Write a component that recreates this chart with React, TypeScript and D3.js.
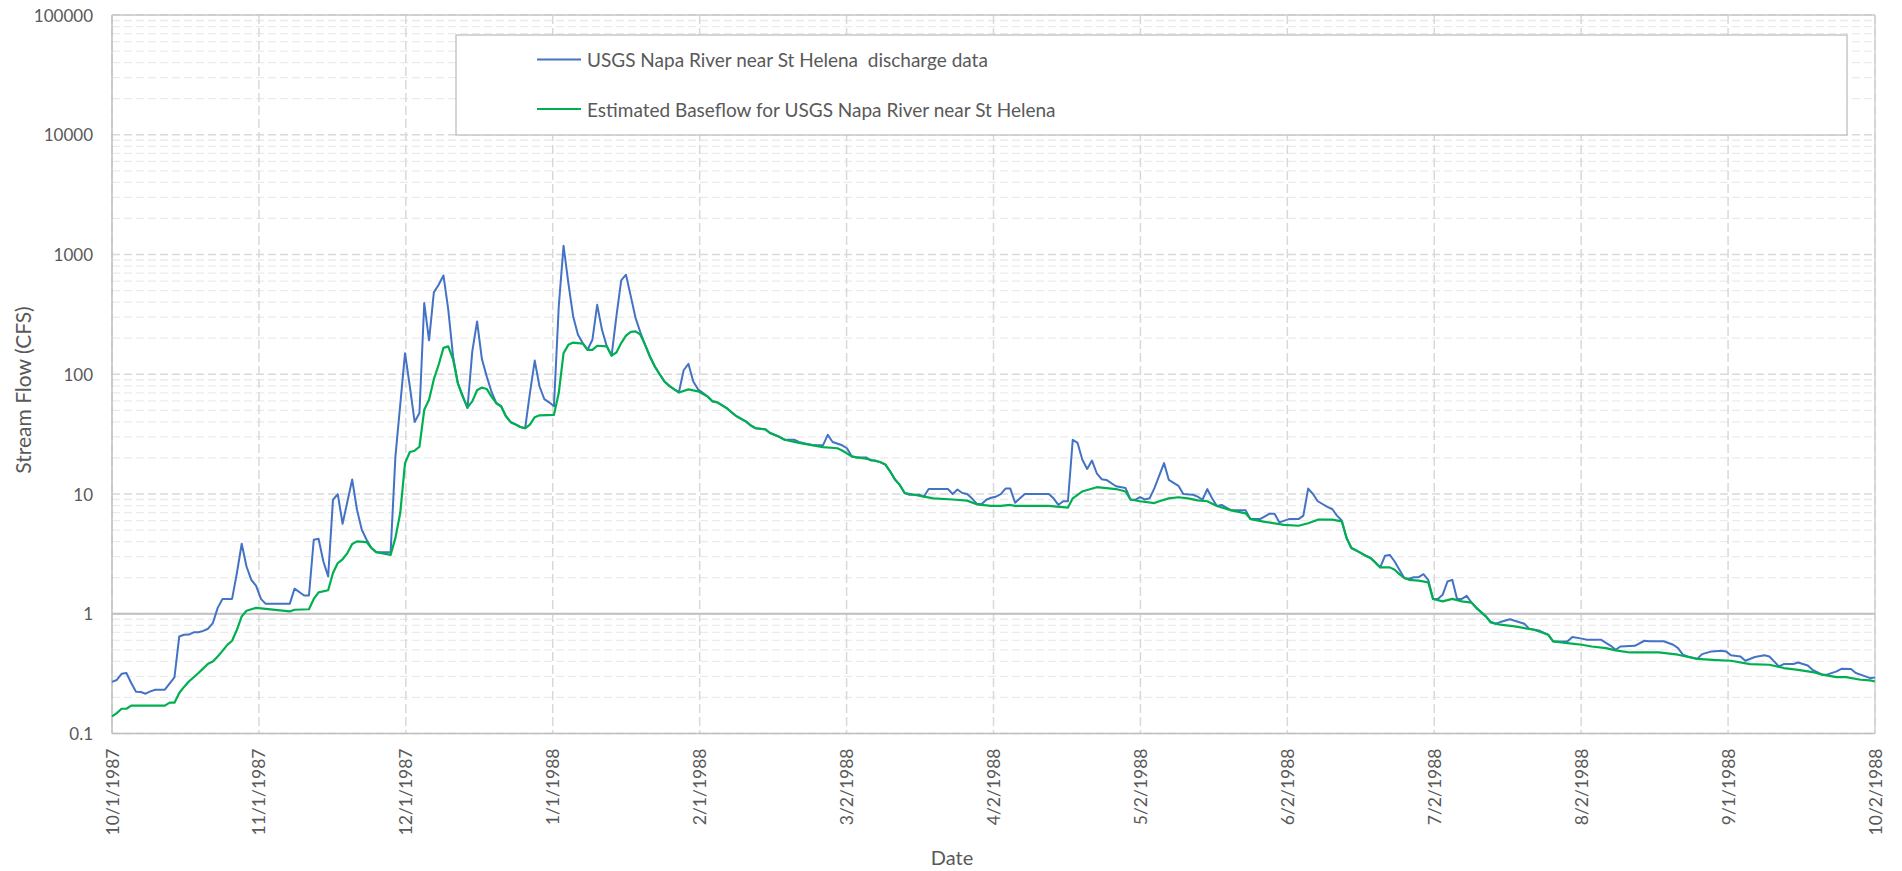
import React, { useEffect } from "react";
import * as d3 from "d3";

// ---------- DATA ----------
const startDate = new Date(1987, 9, 1);
const endDate = new Date(1988, 9, 2);

const xTickLabels = [
  "10/1/1987", "11/1/1987", "12/1/1987", "1/1/1988", "2/1/1988", "3/2/1988",
  "4/2/1988", "5/2/1988", "6/2/1988", "7/2/1988", "8/2/1988", "9/1/1988", "10/2/1988",
];
const yTickValues = [0.1, 1, 10, 100, 1000, 10000, 100000];

const seriesNames = [
  "USGS Napa River near St Helena  discharge data",
  "Estimated Baseflow for USGS Napa River near St Helena",
];

// days since 10/1/1987
const flowDays = [
  0, 1, 2, 3, 4, 5, 6, 7, 8, 9, 11, 13, 14, 15, 16, 17, 18, 19, 20, 21, 22, 23, 25, 26, 27, 28, 29, 30, 31, 32,
  37, 38, 40, 41, 42, 43, 44, 45, 46, 47, 48, 50, 51, 52, 53, 54, 55, 58, 59, 61, 62, 63, 64, 65, 66, 67, 68, 69,
  70, 71, 72, 74, 75, 76, 77, 78, 79, 80, 81, 82, 83, 84, 85, 86, 87, 88, 89, 90, 91, 92, 93, 94, 95, 96, 97, 98,
  99, 100, 101, 102, 103, 104, 105, 106, 107, 108, 109, 110, 111, 112, 113, 114, 115, 116, 117, 118, 119, 120,
  121, 122, 124, 125, 126, 128, 129, 130, 132, 133, 134, 136, 137, 139, 140, 142, 143, 144, 146, 148, 149, 150,
  152, 153, 154, 155, 157, 158, 159, 160, 161, 162, 163, 164, 165, 166, 168, 169, 170, 174, 175, 176, 177, 178,
  179, 180, 181, 182, 183, 184, 185, 186, 187, 188, 190, 195, 196, 197, 198, 199, 200, 201, 202, 203, 204, 205,
  206, 207, 209, 211, 212, 213, 214, 215, 216, 217, 219, 220, 222, 223, 225, 226, 227, 228, 229, 230, 231, 233,
  236, 237, 239, 241, 242, 243, 245, 247, 248, 249, 250, 251, 253, 254, 255, 256, 257, 258, 259, 261, 262, 263,
  264, 265, 266, 267, 268, 269, 270, 271, 272, 273, 274, 275, 276, 277, 278, 279, 280, 281, 282, 283, 284, 286,
  287, 288, 289, 291, 293, 294, 295, 297, 299, 300, 302, 303, 304, 306, 307, 310, 312, 313, 314, 317, 319, 320,
  323, 325, 326, 327, 328, 330, 331, 333, 335, 336, 337, 339, 340, 342, 344, 345, 346, 347, 348, 350, 351, 353,
  354, 356, 357, 359, 360, 362, 363, 365, 366, 367,
];
const flowValues = [
  0.27, 0.28, 0.315, 0.32, 0.264, 0.223, 0.222, 0.215, 0.225, 0.232, 0.232, 0.294, 0.646, 0.667, 0.67, 0.7, 0.7,
  0.72, 0.75, 0.836, 1.12, 1.33, 1.33, 2.19, 3.84, 2.48, 1.92, 1.71, 1.33, 1.21,
  1.21, 1.62, 1.42, 1.42, 4.15, 4.23, 2.73, 2.05, 8.95, 9.97, 5.64, 13.2, 7.39, 5.03, 4.15, 3.54, 3.27, 3.27,
  20.6, 150, 79, 40, 47.4, 393, 192, 483, 559, 668,
  346, 141, 84, 52.2, 155, 276, 134, 96, 71.5, 57.3, 54, 44.6, 39.8, 38.1, 36.3, 35.4, 69.6, 130, 79, 62, 58.3,
  54, 368, 1183, 578, 304, 214, 182,
  160, 194, 380, 235, 171, 143, 304, 608, 678, 447, 294, 223, 175, 140, 116, 100, 87, 80, 75, 70.5, 108, 122,
  87, 75, 65, 59.4, 58.3, 52, 48, 44.6, 40.2, 37.3, 35.4, 34.7, 32.3, 29.9, 28.4, 28.4, 27.2, 26.5, 25.5, 25.5,
  31.2, 27.2,
  25.5, 24.1, 20.6, 20.2, 20.2, 19.0, 19.0, 18.4, 17.6, 15.4, 13.2, 11.9, 10.2, 9.85, 9.85, 9.5, 11.0, 11.0,
  10.0, 10.9, 10.2, 10.0,
  9.2, 8.3, 8.2, 8.95, 9.3, 9.5, 9.97, 11.1, 11.1, 8.45, 10, 10, 9.2, 8.1, 8.7, 8.7, 28.4, 26.7, 19.3, 16.2, 19.0,
  14.9,
  13.3, 13.1, 11.6, 11.2, 9.0, 8.95, 9.4, 9.0, 9.2, 11.2, 18.1, 13.1, 11.7, 10, 9.85, 9.5, 8.95, 11.0, 9.2, 7.95,
  8.1, 7.3,
  7.3, 6.17, 6.17, 6.85, 6.85, 5.8, 6.17, 6.17, 6.6, 11.1, 10.0, 8.7, 7.8, 7.5, 6.6, 6.0, 4.29, 3.54, 3.38, 3.05,
  2.92, 2.68,
  2.44, 3.05, 3.1, 2.73, 2.33, 1.99, 1.96, 2.02, 2.02, 2.14, 1.92, 1.33, 1.33, 1.44, 1.86, 1.92, 1.33, 1.33, 1.41,
  1.24, 1.12, 0.95,
  0.86, 0.825, 0.852, 0.9, 0.85, 0.825, 0.75, 0.726, 0.667, 0.587, 0.587, 0.59, 0.64, 0.62, 0.606, 0.606, 0.54,
  0.5, 0.533, 0.54, 0.595, 0.59,
  0.59, 0.551, 0.517, 0.455, 0.44, 0.42, 0.46, 0.485, 0.49, 0.485, 0.45, 0.44, 0.405, 0.435, 0.45, 0.44, 0.4,
  0.363, 0.38, 0.38, 0.392, 0.37,
  0.34, 0.31, 0.31, 0.33, 0.347, 0.345, 0.32, 0.3, 0.29, 0.293,
];

const baseDays = [
  0, 1, 2, 3, 4, 11, 12, 13, 14, 15, 16, 17, 18, 19, 20, 21, 22, 23, 24, 25, 26, 27, 28, 30, 32, 37, 38, 41, 42,
  43, 45, 46, 47, 48, 49, 50, 51, 53, 54, 55, 58, 59, 60, 61, 62, 63, 64, 65, 66, 67, 68, 69, 70, 71, 72, 73, 74,
  75, 76, 77, 78, 79, 80, 81, 82, 83, 84, 85, 86, 87, 88, 89, 92, 93, 94, 95, 96, 98, 99, 100, 101, 103, 104, 105,
  106, 107, 108, 109, 110, 111, 112, 113, 115, 116, 118, 120, 122, 124, 125, 126, 128, 129, 130, 132, 133, 134,
  136, 137, 139, 140, 143, 146, 148, 151, 152, 154, 155, 157, 160, 161, 162, 163, 164, 165, 167, 169, 171, 175,
  178, 180, 183, 185, 187, 188, 195, 199, 200, 202, 203, 205, 207, 209, 211, 212, 214, 217, 218, 220, 222, 224,
  226, 228, 230, 233, 236, 237, 240, 244, 247, 249, 251, 254, 256, 257, 258, 259, 261, 262, 264, 266, 267, 268,
  269, 270, 272, 274, 275, 277, 279, 281, 283, 284, 286, 287, 289, 292, 296, 299, 300, 303, 306, 308, 311, 313,
  316, 322, 326, 330, 334, 337, 341, 345, 348, 351, 354, 356, 359, 361, 364, 366, 367,
];
const baseValues = [
  0.139, 0.148, 0.161, 0.161, 0.171, 0.171, 0.181, 0.181, 0.218, 0.245, 0.272, 0.295, 0.32, 0.35, 0.382, 0.4,
  0.44, 0.49, 0.55, 0.595, 0.735, 0.95, 1.06, 1.12, 1.1, 1.045, 1.08, 1.09, 1.33,
  1.51, 1.57, 2.19, 2.65, 2.85, 3.21, 3.82, 4.02, 3.97, 3.54, 3.27, 3.1, 4.3, 6.93, 18.1, 22.4, 23, 24.8, 50.5,
  61.2, 91, 120, 166, 171, 133, 84, 65, 53,
  59.4, 73.5, 77.4, 75.4, 65, 57.3, 54, 44.6, 39.8, 38.1, 36.3, 35.4, 37.9, 43.8, 45.4, 45.8, 69.6, 150, 176, 184,
  180, 160, 160, 173, 171, 143, 152,
  182, 210, 226, 228, 214, 175, 140, 116, 87, 80, 70.5, 74.7, 72, 65, 59.4, 58.3, 52, 48, 44.6, 40.2, 37.3, 35.4,
  34.7, 32.3, 29.9, 28.4, 26.7, 25.5, 24.6, 24.1, 23.1, 20.6, 20.2, 19.7, 18.4, 17.6, 15.4, 13.2, 11.9, 10.2, 9.85,
  9.5, 9.2, 9.0,
  8.8, 8.2, 7.95, 7.95, 8.1, 7.95, 7.95, 7.7, 9.2, 10.5, 10.8, 11.4, 11.2, 11.0, 10.5, 9.0, 8.7, 8.4, 8.7, 9.2,
  9.4, 9.2,
  8.85, 8.7, 7.95, 7.3, 6.9, 6.17, 5.85, 5.53, 5.43, 5.7, 6.1, 6.1, 5.9, 4.29, 3.54, 3.38, 3.05, 2.92, 2.44, 2.44,
  2.33, 2.14,
  1.99, 1.92, 1.89, 1.83, 1.33, 1.27, 1.33, 1.27, 1.24, 1.12, 0.95, 0.846, 0.81, 0.784, 0.735, 0.667, 0.587,
  0.569, 0.551, 0.533, 0.517, 0.494,
  0.475, 0.475, 0.455, 0.42, 0.41, 0.405, 0.38, 0.375, 0.352, 0.34, 0.326, 0.31, 0.296, 0.296, 0.281, 0.278,
  0.272,
];

// ---------- LAYOUT ----------
const W = 1902;
const H = 871;
const M = { left: 112, right: 1875, top: 15, bottom: 733.5 };
const FONT = "Lato, 'Open Sans', sans-serif";
const TEXT = "#595959";
const BLUE = "#4472C4";
const GREEN = "#00B050";

export default function App() {
  useEffect(() => {
    document.body.style.margin = "0";
  }, []);

  const x = d3.scaleTime().domain([startDate, endDate]).range([M.left, M.right]);
  const y = d3.scaleLog().domain([0.1, 100000]).range([M.bottom, M.top]);

  const span = endDate.getTime() - startDate.getTime();
  const tickDates = xTickLabels.map((_, k) => new Date(startDate.getTime() + (k * span) / 12));

  const minorVals: number[] = [];
  for (let e = -1; e < 5; e++) {
    for (let m = 2; m <= 9; m++) minorVals.push(m * Math.pow(10, e));
  }

  const toDate = (d: number) => d3.timeDay.offset(startDate, d);
  const line = d3
    .line<[number, number]>()
    .x((d) => x(toDate(d[0])))
    .y((d) => y(d[1]));

  const flowPts = flowDays.map((d, i) => [d, flowValues[i]] as [number, number]);
  const basePts = baseDays.map((d, i) => [d, baseValues[i]] as [number, number]);

  const legendRows = [
    { name: seriesNames[0], color: BLUE, y: 59.5 },
    { name: seriesNames[1], color: GREEN, y: 109 },
  ];

  return (
    <svg
      width={W}
      height={H}
      style={{ position: "absolute", left: 0, top: 0, background: "#fff" }}
      fontFamily={FONT}
    >
      {/* minor horizontal gridlines */}
      {minorVals.map((v, i) => (
        <line
          key={"mn" + i}
          x1={M.left}
          x2={M.right}
          y1={y(v)}
          y2={y(v)}
          stroke="#ebebeb"
          strokeWidth={1.3}
          strokeDasharray="8,4"
        />
      ))}
      {/* major horizontal gridlines */}
      {yTickValues.map((v, i) => (
        <line
          key={"mj" + i}
          x1={M.left}
          x2={M.right}
          y1={y(v)}
          y2={y(v)}
          stroke="#d9d9d9"
          strokeWidth={1.5}
          strokeDasharray="8,4"
        />
      ))}
      {/* vertical gridlines */}
      {tickDates.map((d, i) => (
        <line
          key={"vg" + i}
          x1={x(d)}
          x2={x(d)}
          y1={M.top}
          y2={M.bottom}
          stroke="#d9d9d9"
          strokeWidth={1.5}
          strokeDasharray="9,4"
        />
      ))}
      {/* plot border */}
      <line x1={M.left} x2={M.right} y1={M.top} y2={M.top} stroke="#c8c8c8" strokeWidth={1.5} />
      <line x1={M.left} x2={M.right} y1={M.bottom} y2={M.bottom} stroke="#bfbfbf" strokeWidth={1.5} />
      <line x1={M.left} x2={M.left} y1={M.top} y2={M.bottom} stroke="#bfbfbf" strokeWidth={1.5} />
      <line x1={M.right} x2={M.right} y1={M.top} y2={M.bottom} stroke="#d0d0d0" strokeWidth={1.5} />
      {/* horizontal axis line at 1 */}
      <line x1={M.left} x2={M.right} y1={y(1)} y2={y(1)} stroke="#bfbfbf" strokeWidth={1.8} />

      {/* series */}
      <path d={line(flowPts) || ""} fill="none" stroke={BLUE} strokeWidth={2} strokeLinejoin="round" />
      <path d={line(basePts) || ""} fill="none" stroke={GREEN} strokeWidth={2.2} strokeLinejoin="round" />

      {/* y tick labels */}
      {yTickValues.map((v, i) => (
        <text
          key={"yl" + i}
          x={93}
          y={y(v)}
          textAnchor="end"
          dominantBaseline="central"
          fontSize={17}
          fill={TEXT}
        >
          {String(v)}
        </text>
      ))}
      {/* x tick labels */}
      {tickDates.map((d, i) => (
        <text
          key={"xl" + i}
          transform={`translate(${x(d)},${M.bottom + 15}) rotate(-90)`}
          textAnchor="end"
          dominantBaseline="central"
          fontSize={17.5}
          fill={TEXT}
        >
          {xTickLabels[i]}
        </text>
      ))}

      {/* axis titles */}
      <text x={952} y={857} textAnchor="middle" dominantBaseline="central" fontSize={20} fill={TEXT}>
        Date
      </text>
      <text
        transform={`translate(22,390) rotate(-90)`}
        textAnchor="middle"
        dominantBaseline="central"
        fontSize={21}
        fill={TEXT}
      >
        Stream Flow (CFS)
      </text>

      {/* legend */}
      <rect x={456} y={35} width={1391} height={100} fill="#fff" stroke="#bfbfbf" strokeWidth={1.3} />
      {legendRows.map((r, i) => (
        <g key={"lg" + i}>
          <line x1={537} x2={581} y1={r.y} y2={r.y} stroke={r.color} strokeWidth={2} />
          <text
            x={587}
            y={r.y}
            dominantBaseline="central"
            fontSize={19}
            fill={TEXT}
            style={{ whiteSpace: "pre" }}
          >
            {r.name}
          </text>
        </g>
      ))}
    </svg>
  );
}
